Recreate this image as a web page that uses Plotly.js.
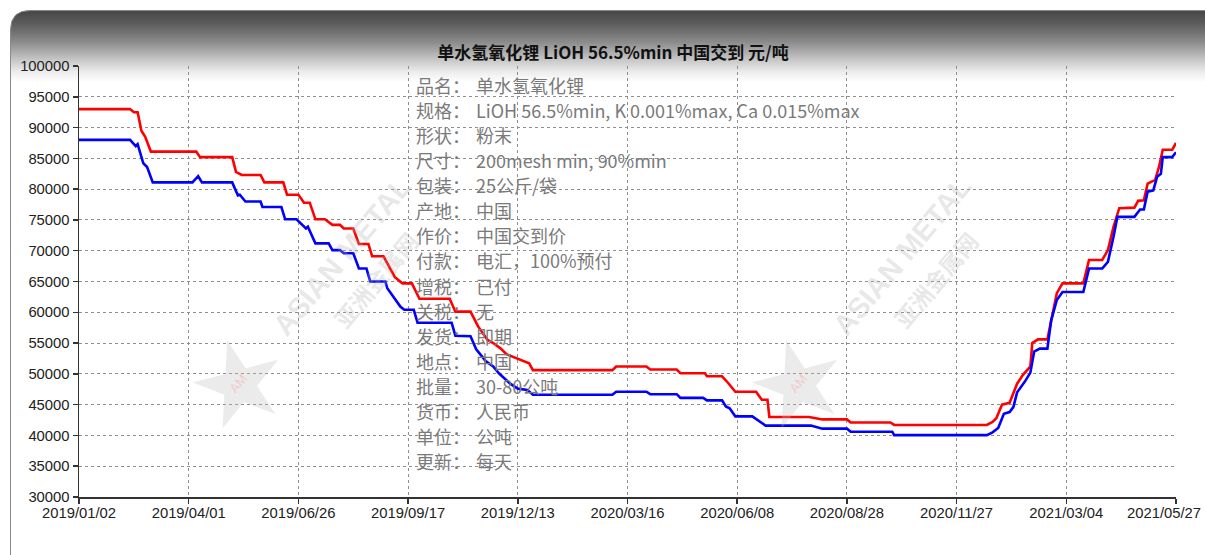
<!DOCTYPE html>
<html>
<head>
<meta charset="utf-8">
<script src="https://cdn.plot.ly/plotly-3.0.1.min.js"></script>
<style>
html,body{margin:0;padding:0;background:#fff;}
#chart{width:1205px;height:555px;}
</style>
</head>
<body>
<div id="chart"></div>
<script>
// ---------------- DATA ----------------
const chartTitle = "单水氢氧化锂 LiOH 56.5%min 中国交到 元/吨";
const tickDays = [0, 58, 116, 174, 232, 290, 348, 406, 464, 522, 580];
const tickLabels = ["2019/01/02","2019/04/01","2019/06/26","2019/09/17","2019/12/13","2020/03/16","2020/06/08","2020/08/28","2020/11/27","2021/03/04","2021/05/27"];

// upper price (red)
const highDay = [0,27,29,31,33,35,38,62,64,81,83,86,96,98,108,110,116,119,122,125,130,134,138,140,145,148,153,155,161,167,171,176,180,196,199,207,211,216,219,223,226,232,238,240,282,284,300,302,316,318,331,332,340,343,347,358,361,364,365,386,393,406,408,429,431,480,483,485,488,492,496,499,503,504,507,512,517,520,531,534,541,544,547,550,558,560,563,565,569,571,573,578,580];
const highPrice = [93000,93000,92500,92500,89500,88500,86100,86100,85200,85200,82800,82300,82300,81100,81100,79100,79100,77800,77800,75100,75100,74200,74200,73600,73600,71100,71100,69100,69100,65700,64700,64700,62200,62200,60100,60100,57700,55500,55000,54100,53200,52400,51700,50600,50600,51200,51200,50700,50700,50100,50100,49600,49600,48600,47100,47100,45800,45800,43000,43000,42600,42600,42100,42100,41700,41700,42200,42800,45000,45300,48400,49800,51200,55000,55600,55600,63100,64700,64700,68500,68500,70100,73900,76900,77000,78100,78200,80900,81500,83600,86400,86400,87500];

// lower price (blue)
const lowDay = [0,27,30,31,34,36,39,60,63,65,81,84,85,88,96,97,107,109,115,120,121,125,132,134,138,140,145,148,152,154,162,163,170,172,177,179,197,199,207,210,215,219,222,228,232,237,240,282,284,300,302,316,318,330,332,340,342,344,347,356,363,387,393,406,408,430,431,480,483,486,489,492,494,496,500,503,505,508,512,514,517,520,531,534,541,544,547,549,558,561,563,565,568,570,572,573,578,580];
const lowPrice = [88000,88000,87000,87300,84200,83600,81100,81100,82100,81100,81100,79000,79100,78000,78000,77100,77100,75100,75100,73600,73900,71200,71200,70100,70100,69600,69600,67100,67100,65000,65000,63900,60900,60400,60400,58300,58300,56200,56100,54000,52100,51200,50100,48400,47600,47400,46600,46600,47100,47100,46700,46700,46100,46100,45700,45700,44700,44400,43100,43100,41600,41600,41100,41100,40600,40600,40050,40050,40500,41200,43500,43800,44600,47000,48700,50200,53600,54100,54100,58700,62000,63300,63300,67100,67100,68200,72300,75500,75500,76700,76700,79600,79800,82000,82500,85200,85200,86000];

const infoLabels = ["品名：","规格：","形状：","尺寸：","包装：","产地：","作价：","付款：","增税：","关税：","发货：","地点：","批量：","货币：","单位：","更新："];
const infoValues = ["单水氢氧化锂","LiOH 56.5%min, K 0.001%max, Ca 0.015%max","粉末","200mesh min, 90%min","25公斤/袋","中国","中国交到价","电汇，100%预付","已付","无","即期","中国","30-80公吨","人民币","公吨","每天"];

// ---------------- LAYOUT HELPERS ----------------
const W = 1205, H = 555;
const M = {l: 79, r: 29, t: 66, b: 58};
const PW = W - M.l - M.r, PH = H - M.t - M.b;
const px2x = p => (p - M.l) / PW;
const px2y = p => (H - M.b - p) / PH;

const bgSvg = "<svg xmlns='http://www.w3.org/2000/svg' width='1205' height='555'>" +
  "<defs><linearGradient id='g' x1='0' y1='10' x2='0' y2='82' gradientUnits='userSpaceOnUse'>" +
  "<stop offset='0' stop-color='#454545'/>" +
  "<stop offset='0.2' stop-color='#5e5e5e'/>" +
  "<stop offset='0.45' stop-color='#8c8c8c'/>" +
  "<stop offset='0.68' stop-color='#c4c4c4'/>" +
  "<stop offset='0.86' stop-color='#ececec'/>" +
  "<stop offset='1' stop-color='#ffffff'/>" +
  "</linearGradient></defs>" +
  "<path d='M10.5,562 L10.5,30 Q10.5,10.5 30,10.5 L1220,10.5 L1220,562 Z' fill='url(#g)' stroke='#8a8a8a' stroke-width='1'/>" +
  "</svg>";

const annotations = [];
const fontCJK = '"Noto Sans CJK SC", "Noto Sans", sans-serif';
for (let i = 0; i < infoLabels.length; i++) {
  const yp = 85 + i * 25.07;
  annotations.push({xref:'paper', yref:'paper', x: px2x(414), y: px2y(yp), xanchor:'left', yanchor:'middle',
    text: infoLabels[i], showarrow:false, font:{family: fontCJK, size:18, color:'#7a7a7a'}});
  annotations.push({xref:'paper', yref:'paper', x: px2x(474), y: px2y(yp), xanchor:'left', yanchor:'middle',
    text: infoValues[i], showarrow:false, font:{family: fontCJK, size:18, color:'#7a7a7a'}});
}
// watermarks
[0, 560].forEach(dx => {
  annotations.push({xref:'paper', yref:'paper', x: px2x(237 + dx), y: px2y(377), text:'★', showarrow:false,
    textangle:-15, font:{size:115, color:'rgba(190,190,190,0.3)'}, xanchor:'center', yanchor:'middle'});
  annotations.push({xref:'paper', yref:'paper', x: px2x(238 + dx), y: px2y(383), text:'AM', showarrow:false,
    textangle:-50, font:{family:'Liberation Sans', size:13, color:'rgba(255,120,120,0.3)'}, xanchor:'center', yanchor:'middle'});
  annotations.push({xref:'paper', yref:'paper', x: px2x(342 + dx), y: px2y(256), text:'<b>ASIAN METAL</b>', showarrow:false,
    textangle:-50, font:{family:'Liberation Sans', size:29, color:'rgba(175,175,175,0.3)'}, xanchor:'center', yanchor:'middle'});
  annotations.push({xref:'paper', yref:'paper', x: px2x(375 + dx), y: px2y(280), text:'<b>亚洲金属网</b>', showarrow:false,
    textangle:-50, font:{family: fontCJK, size:23, color:'rgba(175,175,175,0.3)'}, xanchor:'center', yanchor:'middle'});
});

const axisFont = {family:'"Liberation Sans", Arial, sans-serif', size:14.8, color:'#222'};
// last date label drawn right-aligned so it stays inside the page
const lastIdx = tickLabels.length - 1;
const tickTextShown = tickLabels.map((t, i) => i === lastIdx ? '' : t);
annotations.push({xref:'paper', yref:'paper', x: px2x(1203), y: px2y(513), xanchor:'right', yanchor:'middle',
  text: tickLabels[lastIdx], showarrow:false, font: axisFont});

const traces = [
  {x: highDay, y: highPrice, type:'scatter', mode:'lines', line:{color:'#ff0000', width:2.6}, hoverinfo:'skip'},
  {x: lowDay, y: lowPrice, type:'scatter', mode:'lines', line:{color:'#0000ff', width:2.6}, hoverinfo:'skip'}
];

const layout = {
  width: W, height: H,
  margin: M,
  paper_bgcolor:'#ffffff',
  plot_bgcolor:'rgba(0,0,0,0)',
  showlegend:false,
  title:{text:'<b>' + chartTitle + '</b>', x: 613/W, xref:'container', xanchor:'center',
         y: 1 - 53/H, yref:'container', yanchor:'middle',
         font:{family: fontCJK, size:17, color:'#111'}},
  xaxis:{range:[0,580], tickvals: tickDays, ticktext: tickTextShown, showgrid:true, gridcolor:'#8f8f8f', griddash:'dot', gridwidth:1,
         showline:true, linecolor:'#333', linewidth:1.5, ticks:'outside', ticklen:5, tickcolor:'#333', tickwidth:1.5,
         zeroline:false, tickfont: axisFont, ticklabelstandoff:-3, fixedrange:true},
  yaxis:{range:[30000,100000], tick0:30000, dtick:5000, tickformat:'d', showgrid:true, gridcolor:'#8f8f8f', griddash:'dot', gridwidth:1,
         showline:true, linecolor:'#333', linewidth:1.5, ticks:'outside', ticklen:5, tickcolor:'#333', tickwidth:1.5,
         zeroline:false, tickfont: axisFont, fixedrange:true},
  images:[{source:'data:image/svg+xml;charset=utf-8,' + encodeURIComponent(bgSvg), xref:'paper', yref:'paper',
           x: px2x(0), y: px2y(0), sizex: W/PW, sizey: H/PH, sizing:'stretch', xanchor:'left', yanchor:'top', layer:'below'}],
  annotations: annotations
};

Plotly.newPlot('chart', traces, layout, {staticPlot:true, displayModeBar:false});
</script>
</body>
</html>
